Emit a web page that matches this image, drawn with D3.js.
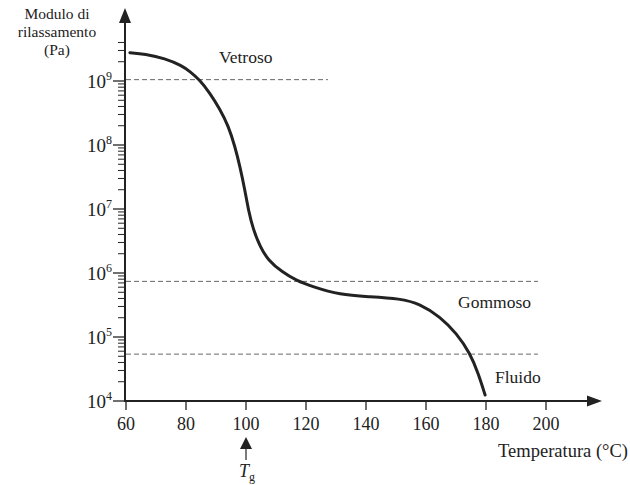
<!DOCTYPE html>
<html><head><meta charset="utf-8">
<script src="https://cdn.jsdelivr.net/npm/d3@7"></script>
<style>body{margin:0;background:#fff}svg{display:block}text{font-family:"Liberation Serif","DejaVu Serif",serif;fill:#222}</style>
</head><body>
<script>
// Data
const temperature = [61.3,66.3,73,78.6,81.3,84.5,88,91.3,94.1,96.3,98,99.7,100.8,102.4,104.7,107.4,111.9,116.9,121.9,131.3,141.3,151.3,158,164.7,170.2,174.7,177.4,179.7];
const modulus = [2.77e9,2.64e9,2.26e9,1.74e9,1.41e9,1.05e9,6.46e8,3.63e8,2.0e8,9.55e7,4.57e7,1.91e7,9.55e6,4.79e6,2.57e6,1.58e6,1.05e6,7.59e5,6.17e5,4.53e5,4.27e5,3.98e5,3.31e5,2.07e5,1.14e5,5.56e4,2.71e4,1.24e4];
const xTicks = [60,80,100,120,140,160,180,200];
const yExponents = [4,5,6,7,8,9];
const refLevels = [1.05e9, 7.4e5, 5.4e4];
const refEnds = [127.3, 197.3, 197.3];
const regionNames = ["Vetroso","Gommoso","Fluido"];
const regionPos = [[91,1.9e9],[170.7,2.84e5],[183,1.91e4]];
const tg = 100;

const W=630,H=485;
const svg=d3.select("body").append("svg").attr("width",W).attr("height",H);
const x=d3.scaleLinear().domain([60,200]).range([126,546]);
const y=d3.scaleLog().domain([1e4,1e9]).range([401,81]);
const ink="#222";

// dashed reference lines
refLevels.forEach((v,i)=>{
  svg.append("line").attr("x1",x(60)).attr("x2",x(refEnds[i]))
    .attr("y1",y(v)).attr("y2",y(v))
    .attr("stroke","#666").attr("stroke-width",1).attr("stroke-dasharray","5,3");
});

// y axis minor ticks
const minor=[];
yExponents.forEach(e=>{ for(let m=2;m<=9;m++){ const v=m*Math.pow(10,e); if(v<=4.2e9) minor.push(v);} });
svg.selectAll(".mt").data(minor).enter().append("line")
  .attr("x1",118).attr("x2",125).attr("y1",d=>y(d)).attr("y2",d=>y(d))
  .attr("stroke",ink).attr("stroke-width",1);
// major ticks
svg.selectAll(".Mt").data(yExponents).enter().append("line")
  .attr("x1",113).attr("x2",125).attr("y1",d=>y(Math.pow(10,d))).attr("y2",d=>y(Math.pow(10,d)))
  .attr("stroke",ink).attr("stroke-width",1.3);
// y tick labels
const yl=svg.selectAll(".yl").data(yExponents).enter().append("text")
  .attr("x",112).attr("y",d=>y(Math.pow(10,d))+7).attr("text-anchor","end").style("font-size","19px");
yl.append("tspan").text("10");
yl.append("tspan").attr("dy",-8).style("font-size","12px").text(d=>d);

// x ticks
svg.selectAll(".xt").data(xTicks).enter().append("line")
  .attr("x1",d=>x(d)).attr("x2",d=>x(d)).attr("y1",401).attr("y2",410)
  .attr("stroke",ink).attr("stroke-width",1.3);
svg.selectAll(".xl").data(xTicks).enter().append("text")
  .attr("x",d=>x(d)).attr("y",430).attr("text-anchor","middle").style("font-size","18px").text(d=>d);

// axes with arrows
svg.append("line").attr("x1",125).attr("x2",125).attr("y1",402).attr("y2",20).attr("stroke",ink).attr("stroke-width",2);
svg.append("path").attr("d","M125,8 L119,23 L131,23 Z").attr("fill",ink);
svg.append("line").attr("x1",124).attr("x2",590).attr("y1",401).attr("y2",401).attr("stroke",ink).attr("stroke-width",2);
svg.append("path").attr("d","M602,401 L587,395.5 L587,406.5 Z").attr("fill",ink);

// curve
const pts=temperature.map((t,i)=>[t,modulus[i]]);
svg.append("path").datum(pts)
  .attr("d",d3.line().x(d=>x(d[0])).y(d=>y(d[1])).curve(d3.curveBasis))
  .attr("fill","none").attr("stroke",ink).attr("stroke-width",3).attr("stroke-linecap","round");

// region labels
regionNames.forEach((n,i)=>{
  svg.append("text").attr("x",x(regionPos[i][0])).attr("y",y(regionPos[i][1])).style("font-size","17.5px").text(n);
});

// axis titles
[["Modulo di",19],["rilassamento",37],["(Pa)",55]].forEach(([t,yy])=>
  svg.append("text").attr("x",57).attr("y",yy).attr("text-anchor","middle").style("font-size","15.5px").text(t));
svg.append("text").attr("x",628).attr("y",457).attr("text-anchor","end").style("font-size","18.5px").text("Temperatura (°C)");

// Tg marker
svg.append("line").attr("x1",x(tg)).attr("x2",x(tg)).attr("y1",446).attr("y2",460).attr("stroke",ink).attr("stroke-width",1.2);
svg.append("path").attr("d",`M${x(tg)},437 L${x(tg)-6},449 L${x(tg)+6},449 Z`).attr("fill",ink);
const tgl=svg.append("text").attr("x",x(tg)-7).attr("y",477).style("font-size","18px");
tgl.append("tspan").style("font-style","italic").text("T");
tgl.append("tspan").attr("dy",4).style("font-size","12px").text("g");
</script>
</body></html>
